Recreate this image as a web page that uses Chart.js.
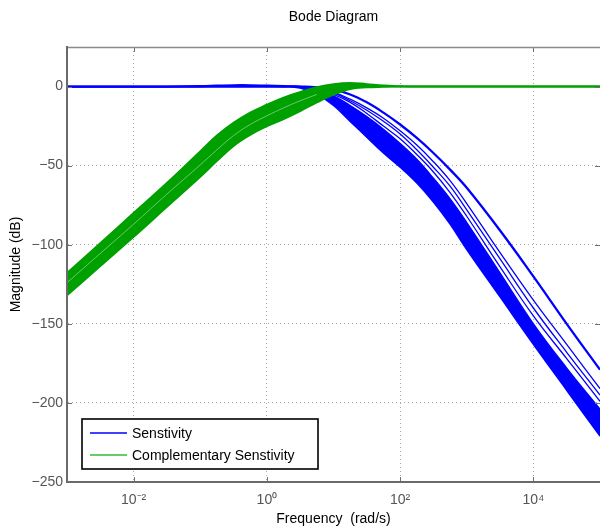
<!DOCTYPE html>
<html><head><meta charset="utf-8">
<script src="https://cdn.jsdelivr.net/npm/chart.js@4.4.1/dist/chart.umd.min.js"></script>
<style>html,body{margin:0;padding:0;background:#fff;overflow:hidden}#wrap{width:600px;height:531px}</style>
</head><body><div id="wrap"><canvas id="c" width="600" height="531"></canvas></div>
<script>
const freqs = [0.001, 0.00316, 0.01, 0.0316, 0.1, 0.178, 0.316, 0.562, 1, 1.78, 3.16, 5.62, 10, 17.8, 31.6, 56.2, 100, 178, 316, 562, 1000, 3162, 10000, 31623, 100000];

// Sensitivity family (dB)
const sLower = [0,0,0,0,0,0,0,0,0,0,-1,-5,-12,-22,-32,-42,-51,-61,-73,-87,-103,-133,-163,-192,-221];
const sDense = [0,0,0,0,0,0,0,0,0,0,0,-2,-6,-12,-19,-27,-36,-46,-58,-71,-86,-118,-150,-178,-204];
const sThinA = [0,0,0,0,0,0,0,0,0,0,0,-1.5,-5,-10,-17,-25,-33,-43,-54,-67,-82,-114,-145,-172,-199];
const sThinB = [0,0,0,0,0,0,0,0,0,0,0,-1.2,-4,-9,-15,-22,-30,-40,-51,-63,-78,-109,-140,-168,-195];
const sThinC = [0,0,0,0,0,0,0,0,0,0,0,-1,-3.5,-8,-13.5,-20,-28,-37,-47.5,-59.5,-74,-105,-135,-163,-191];
const sOuter = [0,0,0,0,0.2,0.5,0.8,0.8,0.5,0.2,0,-0.5,-2,-5,-10,-16.5,-24,-32.5,-42,-52.5,-64,-91,-120,-150,-179];

// Complementary sensitivity family (dB)
const tUpper = [-118,-99,-80,-61,-41,-31,-23,-16.5,-11.5,-7,-3.5,-0.5,1.5,2.3,1.5,0.6,0.2,0,0,0,0,0,0,0,0];
const tLower = [-132,-113.5,-95,-76,-57,-47,-37.5,-30.5,-25,-20.5,-15.5,-10,-5,-1.5,-0.5,-0.2,0,0,0,0,0,0,0,0,0];
const tInner = [-124,-105.5,-87,-68,-49.5,-40,-31,-24,-18.5,-13.5,-9,-5,null,null,null,null,null,null,null,null,null,null,null,null,null];

// Axis ticks and legend
const xTicks = [0.01, 1, 100, 10000];
const xTickLabels = ['10\u207B\u00B2', '10\u2070', '10\u00B2', '10\u2074'];
const yTicks = [-250, -200, -150, -100, -50, 0];
const legendLabels = ['Senstivity', 'Complementary Senstivity'];
const blue = '#0000ff';
const green = 'rgb(0,160,0)';
const legendColors = ['#0000ff', '#33bb33'];

Chart.defaults.font.family = '"Liberation Sans", Arial, Helvetica, sans-serif';
Chart.defaults.font.size = 14;

const pts = vals => freqs.map((f, i) => ({x: f, y: vals[i]}));
const line = (vals, color, w, extra) => Object.assign({
  data: pts(vals), borderColor: color, backgroundColor: color, borderWidth: w,
  pointRadius: 0, fill: false, tension: 0.4
}, extra || {});

const frame = {
  id: 'frame',
  afterDatasetsDraw(chart) {
    const {ctx, chartArea: a, scales: {x, y}} = chart;
    ctx.save();
    ctx.strokeStyle = '#707070'; ctx.lineWidth = 1;
    ctx.beginPath();
    for (const v of xTicks) {
      const px = Math.round(x.getPixelForValue(v)) + 0.5;
      ctx.moveTo(px, a.bottom); ctx.lineTo(px, a.bottom - 5);
      ctx.moveTo(px, a.top); ctx.lineTo(px, a.top + 5);
    }
    for (const v of yTicks) {
      const py = Math.round(y.getPixelForValue(v)) + 0.5;
      ctx.moveTo(a.left, py); ctx.lineTo(a.left + 5, py);
      ctx.moveTo(a.right, py); ctx.lineTo(a.right - 5, py);
    }
    ctx.stroke();
    ctx.strokeStyle = '#8a8a8a'; ctx.lineWidth = 1.5;
    ctx.beginPath(); ctx.moveTo(a.left, a.top + 0.5); ctx.lineTo(a.right, a.top + 0.5); ctx.stroke();
    ctx.restore();
  },
  afterDraw(chart) {
    const {ctx, chartArea: a} = chart;
    const bx = a.left + 15, by = a.bottom - 63, bw = 236, bh = 50;
    ctx.save();
    ctx.fillStyle = '#fff'; ctx.fillRect(bx, by, bw, bh);
    ctx.strokeStyle = '#000'; ctx.lineWidth = 1.6; ctx.strokeRect(bx, by, bw, bh);
    ctx.font = '14px "Liberation Sans", Arial, sans-serif';
    ctx.textBaseline = 'middle';
    legendLabels.forEach((lab, i) => {
      const yy = Math.round(by + 14 + i * 21.5);
      ctx.strokeStyle = legendColors[i]; ctx.lineWidth = 1.3;
      ctx.beginPath(); ctx.moveTo(bx + 8, yy); ctx.lineTo(bx + 45, yy); ctx.stroke();
      ctx.fillStyle = '#000';
      ctx.fillText(lab, bx + 50, yy + 1);
    });
    ctx.restore();
  }
};

new Chart(document.getElementById('c'), {
  type: 'line',
  data: {
    datasets: [
      line(tInner, 'rgba(190,235,190,0.55)', 1),
      line(tUpper, green, 2),
      line(tLower, green, 2, {fill: '-1'}),
      line(sLower, blue, 1.5),
      line(sDense, blue, 1.5, {fill: '-1'}),
      line(sThinA, blue, 1.3),
      line(sThinB, blue, 1.3),
      line(sThinC, blue, 1.3),
      line(sOuter, blue, 2.3)
    ]
  },
  plugins: [frame],
  options: {
    responsive: false, animation: false, events: [],
    layout: {padding: 0},
    plugins: {
      legend: {display: false}, tooltip: {enabled: false},
      title: {display: true, text: 'Bode Diagram', color: '#000', fullSize: false,
        font: {size: 14, weight: 'normal'}, padding: {top: 9, bottom: 21.2}}
    },
    scales: {
      x: {
        type: 'logarithmic', min: 0.001, max: 100000,
        afterBuildTicks: s => { s.ticks = xTicks.map(v => ({value: v})); },
        afterFit: s => { s.height = 49; },
        ticks: {color: '#555', padding: 10, maxRotation: 0, autoSkip: false,
          callback: (v) => { const i = xTicks.indexOf(v); return i >= 0 ? xTickLabels[i] : ''; }},
        grid: {color: '#a8a8a8', lineWidth: 1, drawTicks: false},
        border: {color: '#6a6a6a', width: 2, dash: [1, 3], z: 1},
        title: {display: true, text: 'Frequency  (rad/s)', color: '#000', font: {size: 14}, padding: {top: 0, bottom: 3}}
      },
      y: {
        type: 'linear', min: -250, max: 25,
        afterBuildTicks: s => { s.ticks = yTicks.map(v => ({value: v})); },
        afterFit: s => { s.width = 67; },
        ticks: {color: '#555', padding: 4, callback: v => v < 0 ? '\u2212' + Math.abs(v) : String(v)},
        grid: {color: ctx => (ctx.tick && ctx.tick.value === -250) ? 'rgba(0,0,0,0)' : '#a8a8a8', lineWidth: 1, drawTicks: false},
        border: {color: '#6a6a6a', width: 2, dash: [1, 3], z: 1},
        title: {display: true, text: 'Magnitude (dB)', color: '#000', font: {size: 14}, padding: {top: 8, bottom: 0}}
      }
    }
  }
});
</script>
</body></html>
